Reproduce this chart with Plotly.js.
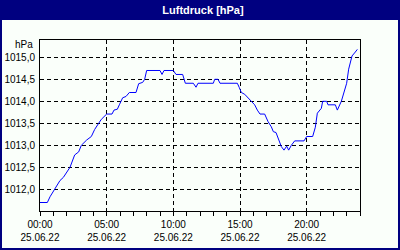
<!DOCTYPE html>
<html>
<head>
<meta charset="utf-8">
<script src="https://cdn.plot.ly/plotly-3.0.1.min.js"></script>
<style>html,body{margin:0;padding:0;background:#fff;}#chart{width:400px;height:250px;}</style>
</head>
<body>
<div id="chart"></div>
<script>
// Time of day in hours (25.06.22)
var hours = [0.0,0.55,0.75,1.1,1.5,1.75,2.25,2.6,2.9,3.1,3.5,3.85,4.1,4.4,4.6,5.0,5.4,5.55,5.8,5.95,6.2,6.45,6.7,7.2,7.4,7.7,7.85,8.0,9.0,9.15,9.3,10.0,10.2,10.7,10.8,10.9,11.5,11.7,11.85,13.0,13.1,13.35,13.5,14.8,14.95,15.1,15.35,15.6,15.85,16.1,16.3,16.5,16.85,17.1,17.35,17.5,17.7,17.9,18.1,18.3,18.5,18.65,18.85,19.1,19.8,20.0,20.45,20.65,20.8,21.1,21.2,21.5,21.6,22.15,22.3,22.6,22.8,23.0,23.15,23.4,23.65,23.8];
// Air pressure in hPa
var pressure = [1011.70,1011.70,1011.83,1012.0,1012.2,1012.27,1012.5,1012.78,1012.85,1013.0,1013.12,1013.2,1013.36,1013.5,1013.59,1013.71,1013.71,1013.8,1013.82,1013.92,1014.08,1014.11,1014.2,1014.2,1014.4,1014.43,1014.5,1014.7,1014.7,1014.61,1014.7,1014.7,1014.61,1014.61,1014.49,1014.41,1014.41,1014.32,1014.41,1014.41,1014.5,1014.5,1014.41,1014.41,1014.31,1014.2,1014.16,1014.08,1014.0,1013.92,1013.8,1013.71,1013.71,1013.54,1013.42,1013.31,1013.29,1013.12,1012.97,1012.89,1012.98,1012.89,1013.0,1013.1,1013.1,1013.2,1013.2,1013.41,1013.73,1013.84,1014.0,1014.0,1013.92,1013.92,1013.8,1014.0,1014.18,1014.41,1014.73,1015.03,1015.12,1015.18];
var xTickVals = [0,5,10,15,20];
var xTickText = ['00:00<br>25.06.22','05:00<br>25.06.22','10:00<br>25.06.22','15:00<br>25.06.22','20:00<br>25.06.22'];
var chartTitle = 'Luftdruck [hPa]';
var unitLabel = 'hPa';

var L=40, R=360, T=40, B=211, W=400, H=250;
function px2x(p){return (p-L)/(R-L);}
function py2y(p){return (B-p)/(B-T);}

var navy = '#000080';
var font = {family:'Liberation Sans, Arial, sans-serif', size:10, color:'#000'};

var trace = {x:hours, y:pressure, type:'scatter', mode:'lines',
  line:{color:'#0000ff', width:1}, hoverinfo:'skip'};

var layout = {
  width:W, height:H,
  margin:{l:L, r:W-R, t:T, b:H-B, pad:0},
  paper_bgcolor:navy, plot_bgcolor:'#fff',
  separators:',.',
  showlegend:false,
  font:font,
  title:{text:'<b>'+chartTitle+'</b>', x:0.5075, xref:'container', xanchor:'center',
    y:1-10/H, yref:'container', yanchor:'middle',
    font:{family:'Liberation Sans, Arial, sans-serif', size:11, color:'#fff'}},
  xaxis:{range:[0,24], tickvals:xTickVals, ticktext:xTickText,
    showgrid:true, gridcolor:'#000', griddash:'4px,3px', gridwidth:1,
    showline:true, linecolor:'#000', linewidth:1, mirror:true,
    ticks:'outside', ticklen:4, tickcolor:'#000', tickwidth:1,
    minor:{dtick:1, tick0:0, ticks:'outside', ticklen:4, tickcolor:'#000', showgrid:false},
    zeroline:false, tickfont:font, fixedrange:true},
  yaxis:{range:[1011.507,1015.393], dtick:0.5, tick0:1012, tickformat:'.1f',
    showgrid:true, gridcolor:'#000', griddash:'4px,3px', gridwidth:1,
    showline:true, linecolor:'#000', linewidth:1, mirror:true,
    ticks:'', ticklabelstandoff:2, zeroline:false, tickfont:font, fixedrange:true},
  shapes:[
    {type:'rect', xref:'paper', yref:'paper', layer:'below',
     x0:px2x(2), x1:px2x(398), y0:py2y(248), y1:py2y(20),
     fillcolor:'#fafffa', line:{width:0}}
  ],
  annotations:[
    {text:unitLabel, xref:'paper', yref:'paper', x:px2x(35), y:py2y(44.5),
     xanchor:'right', yanchor:'middle', showarrow:false, font:font}
  ]
};
Plotly.newPlot('chart',[trace],layout,{staticPlot:true, displayModeBar:false});
</script>
</body>
</html>
